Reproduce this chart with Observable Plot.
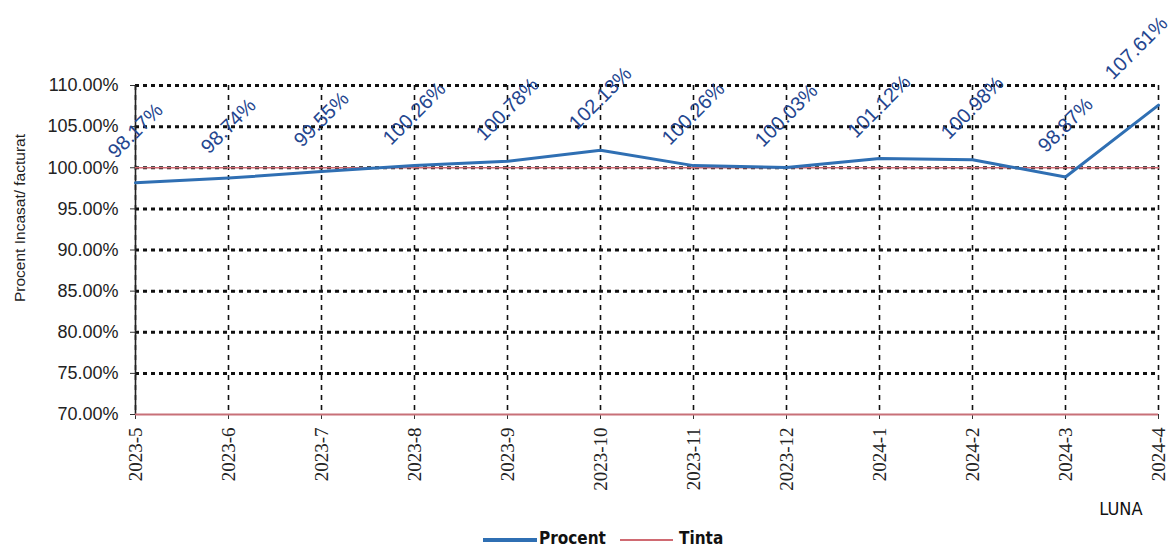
<!DOCTYPE html>
<html>
<head>
<meta charset="utf-8">
<script src="https://cdn.jsdelivr.net/npm/d3@7"></script>
<script src="https://cdn.jsdelivr.net/npm/@observablehq/plot@0.6"></script>
<style>
  html, body { margin: 0; padding: 0; background: #fff; }
  #wrap { position: relative; width: 1172px; height: 549px; overflow: hidden; }
  #legend { position: absolute; left: 0; top: 528px; width: 1172px; height: 20px;
    font-family: "DejaVu Sans Condensed", "DejaVu Sans", sans-serif; font-size: 17px; font-weight: bold; color: #111; }
  .sw { position: absolute; }
  .lt { position: absolute; top: 0; line-height: 20px; }
</style>
</head>
<body>
<div id="wrap">
  <div id="chart"></div>
  <div id="legend">
    <div class="sw" style="left:483px; top:10px; width:54px; height:4px; background:#2f6fb3;"></div>
    <div class="lt" style="left:539px;">Procent</div>
    <div class="sw" style="left:620px; top:11px; width:53px; height:1.5px; background:#d06a72;"></div>
    <div class="lt" style="left:679px;">Tinta</div>
  </div>
</div>
<script>
const months = ["2023-5","2023-6","2023-7","2023-8","2023-9","2023-10","2023-11","2023-12","2024-1","2024-2","2024-3","2024-4"];
const procent = [0.9817, 0.9874, 0.9955, 1.0026, 1.0078, 1.0213, 1.0026, 1.0003, 1.0112, 1.0098, 0.9887, 1.0761];
const tinta = [1.00, 1.00, 1.00, 1.00, 1.00, 1.00, 1.00, 1.00, 1.00, 1.00, 1.00, 1.00];
const yTicks = [0.70, 0.75, 0.80, 0.85, 0.90, 0.95, 1.00, 1.05, 1.10];
const gridTicks = [0.75, 0.80, 0.85, 0.90, 0.95, 1.00, 1.05, 1.10];

const data = months.map((m, i) => ({month: m, procent: procent[i], tinta: tinta[i]}));
const fmt = d3.format(".2%");
const lastMonth = months[months.length - 1];
const serif = "'Liberation Serif', 'DejaVu Serif', 'Times New Roman', serif";

const chart = Plot.plot({
  width: 1172,
  height: 528,
  marginLeft: 135,
  marginRight: 14,
  marginTop: 85,
  marginBottom: 114,
  style: {fontFamily: "'Liberation Sans', Arial, sans-serif", background: "#fff", color: "#222"},
  x: {type: "point", domain: months, padding: 0},
  y: {domain: [0.70, 1.10]},
  marks: [
    Plot.gridY(gridTicks, {stroke: "#111", strokeOpacity: 1, strokeWidth: 3, strokeDasharray: "4,4"}),
    Plot.gridX(months, {stroke: "#111", strokeOpacity: 1, strokeWidth: 1.6, strokeDasharray: "5,5"}),
    Plot.axisY(yTicks, {tickFormat: fmt, fontSize: 18, tickSize: 5, tickPadding: 12, label: null, stroke: "#333"}),
    Plot.axisX(months, {tickRotate: -90, fontSize: 19, fontFamily: serif,
      tickSize: 5, tickPadding: 8, label: null, stroke: "#333"}),
    Plot.ruleX([months[0]], {stroke: "#222", strokeWidth: 1.6}),
    Plot.ruleY([0.70], {stroke: "#c87078", strokeWidth: 2}),
    Plot.line(data, {x: "month", y: "tinta", stroke: "#d06a72", strokeWidth: 1.6}),
    Plot.line(data, {x: "month", y: "procent", stroke: "#2f6fb3", strokeWidth: 3}),
    Plot.text(data.filter(d => d.month !== lastMonth), {x: "month", y: "procent", text: d => fmt(d.procent),
      rotate: -45, dy: -52, fontSize: 20, fill: "#24468f", textAnchor: "middle"}),
    Plot.text(data.filter(d => d.month === lastMonth), {x: "month", y: "procent", text: d => fmt(d.procent),
      rotate: -45, dy: -57, dx: -22, fontSize: 20, fill: "#24468f", textAnchor: "middle"}),
    Plot.text(["Procent Incasat/ facturat"], {frameAnchor: "left", rotate: -90, dx: -115, dy: -32,
      fontSize: 15.5, fill: "#222", textAnchor: "middle"}),
    Plot.text(["LUNA"], {frameAnchor: "bottom-right", dx: -16, dy: 100, fontSize: 18, textAnchor: "end",
      fontFamily: "'DejaVu Sans Condensed', 'DejaVu Sans', sans-serif", fill: "#111"})
  ]
});
d3.select(chart).selectAll("text")
  .filter(function() { return months.includes(this.textContent); })
  .style("font-family", serif);
document.getElementById("chart").appendChild(chart);
</script>
</body>
</html>
